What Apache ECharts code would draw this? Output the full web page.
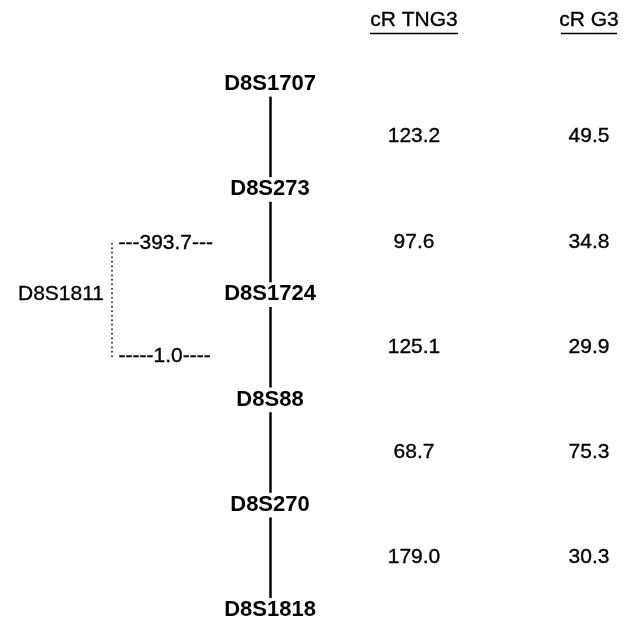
<!DOCTYPE html>
<html>
<head>
<meta charset="utf-8">
<title>8p radiation hybrid map</title>
<script src="https://cdn.jsdelivr.net/npm/echarts@6/dist/echarts.min.js"></script>
<style>html,body{margin:0;padding:0;background:#fff;}</style>
</head>
<body>
<div id="main" style="width:626px;height:643px;"></div>
<script type="text/javascript">
// map order, top to bottom
var markers = ['D8S1707', 'D8S273', 'D8S1724', 'D8S88', 'D8S270', 'D8S1818'];
// distances between neighbouring markers (cR)
var tng3 = [123.2, 97.6, 125.1, 68.7, 179.0];
var g3 = [49.5, 34.8, 29.9, 75.3, 30.3];
var headers = ['cR TNG3', 'cR G3'];
// marker placed beside the map, with distances to its flanks
var sideMarker = 'D8S1811';
var sideDist = [393.7, 1.0];

// layout, in pixels
var lineX = 270, tngX = 414, g3X = 589;
var rowPx = 105.2, topY = 84;
var yMin = -topY / rowPx, yMax = yMin + 643 / rowPx;
function row(px) { return (px - topY) / rowPx; }
var font = "'Liberation Sans', Arial, sans-serif";

var chart = echarts.init(document.getElementById('main'), null, {renderer: 'canvas'});

function textSeries(data, opts) {
    return {
        type: 'scatter',
        symbolSize: 1,
        itemStyle: {color: 'rgba(0,0,0,0)'},
        silent: true,
        data: data,
        label: Object.assign({
            show: true,
            position: 'inside',
            color: '#000',
            opacity: 1,
            textBorderColor: '#000',
            textBorderWidth: 0.35,
            fontFamily: font,
            fontSize: 21,
            formatter: function (p) { return p.name; }
        }, opts || {})
    };
}

var segs = [];
for (var i = 0; i < markers.length - 1; i++) {
    segs.push({coords: [[lineX, i + 0.12], [lineX, i + 0.885]]});
}

var headerX = [tngX, g3X];
var underline = [[370, 458], [561, 617]];

var option = {
    animation: false,
    grid: {left: 0, right: 0, top: 0, bottom: 0},
    xAxis: {type: 'value', min: 0, max: 626, show: false},
    yAxis: {type: 'value', min: yMin, max: yMax, inverse: true, show: false},
    series: [
        // map line
        {
            type: 'lines',
            coordinateSystem: 'cartesian2d',
            silent: true,
            lineStyle: {color: '#000', width: 2.5, opacity: 1},
            data: segs
        },
        // header underlines
        {
            type: 'lines',
            coordinateSystem: 'cartesian2d',
            silent: true,
            lineStyle: {color: '#000', width: 1.3, opacity: 1},
            data: underline.map(function (u) {
                return {coords: [[u[0], row(33)], [u[1], row(33)]]};
            })
        },
        // dotted bracket for the side marker
        {
            type: 'lines',
            coordinateSystem: 'cartesian2d',
            silent: true,
            lineStyle: {color: '#000', width: 1.5, type: [1.5, 3], opacity: 1},
            data: [{coords: [[112, row(243)], [112, row(357)]]}]
        },
        textSeries(markers.map(function (m, i) {
            return {name: m, value: [lineX, i]};
        }), {fontWeight: 'bold', fontSize: 22, textBorderWidth: 0}),
        textSeries(tng3.map(function (v, i) {
            return {name: v.toFixed(1), value: [tngX, i + 0.5]};
        })),
        textSeries(g3.map(function (v, i) {
            return {name: v.toFixed(1), value: [g3X, i + 0.5]};
        })),
        textSeries(headers.map(function (h, i) {
            return {name: h, value: [headerX[i], row(20)]};
        })),
        textSeries([{name: sideMarker, value: [61, 2]}]),
        textSeries([
            {name: '---' + sideDist[0].toFixed(1) + '---', value: [118, row(243)]},
            {name: '-----' + sideDist[1].toFixed(1) + '----', value: [118, row(356)]}
        ], {position: 'right', distance: 0})
    ]
};
chart.setOption(option);
</script>
</body>
</html>
